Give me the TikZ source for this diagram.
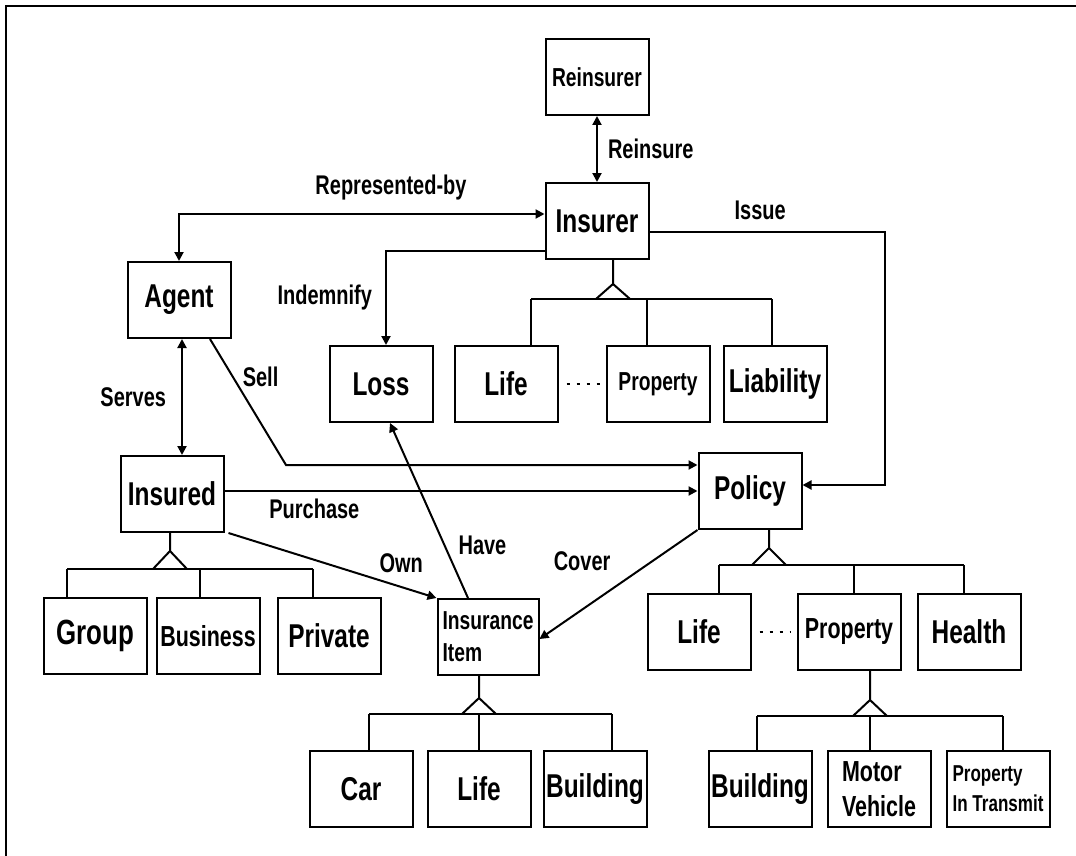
\documentclass[tikz,border=0pt]{standalone}
\usepackage{fontspec}
\newfontfamily\narrowsans[FakeStretch=0.74]{Liberation Sans}
\usetikzlibrary{arrows.meta,positioning}

\begin{document}
\begin{tikzpicture}[x=1pt, y=-1pt,
        ent/.style={draw, line width=2pt, minimum width=103pt,
            minimum height=76pt, inner sep=2pt, align=left,
            font=\narrowsans\bfseries\fontsize{33}{36}\selectfont},
        bigtext/.style={font=\narrowsans\bfseries\fontsize{35}{38}\selectfont},
        midtext/.style={font=\narrowsans\bfseries\fontsize{29}{35}\selectfont},
        smltext/.style={font=\narrowsans\bfseries\fontsize{26}{32}\selectfont},
        tinytext/.style={font=\narrowsans\bfseries\fontsize{23}{30}\selectfont},
        rel/.style={inner sep=1pt, font=\narrowsans\bfseries\fontsize{27}{29}\selectfont},
        plain/.style={line width=2pt},
        link/.style={plain, -{Triangle[length=9pt,width=9pt]}},
        both/.style={plain, {Triangle[length=9pt,width=9pt]}-{Triangle[length=9pt,width=9pt]}}]
\useasboundingbox (0,0) rectangle (1076,856);
\draw[plain] (6,856) -- (6,6) -- (1076,6);

% entities
\node[ent, smltext] (reins) at (597,77) {Reinsurer};
\node[ent] (insurer) at (597,221) {Insurer};
\node[ent] (agent) at (179,300) {Agent};
\node[ent] (loss) at (381,384) {Loss};
\node[ent] (lifeA) at (506,384) {Life};
\node[ent, smltext] (propA) at (658,384) {Property};
\node[ent] (liab) at (775,384) {Liability};
\node[ent] (insured) at (172,494) {Insured};
\node[ent] (policy) at (750,491) {Policy};
\node[ent, bigtext] (group) at (95,636) {Group};
\node[ent, midtext] (business) at (208,636) {Business};
\node[ent] (private) at (329,636) {Private};
\node[ent, smltext, minimum width=101pt] (item) at (488,637) {Insurance\\Item};
\node[ent] (lifeP) at (699,632) {Life};
\node[ent, midtext] (propP) at (849,632) {Property};
\node[ent] (health) at (969,632) {Health};
\node[ent] (car) at (361,789) {Car};
\node[ent] (lifeI) at (479,789) {Life};
\node[ent] (buildI) at (595,789) {Building};
\node[ent] (buildP) at (760,789) {Building};
\node[ent, midtext] (motor) at (879,789) {Motor\\Vehicle};
\node[ent, tinytext] (transit) at (998,789) {Property\\In Transmit};

% relationships
\draw[both] (reins) -- (insurer) node[rel, midway, right=9pt] {Reinsure};
\draw[both] (agent.north) |- ([yshift=7pt]insurer.west)
    node[rel, pos=0.79, above=12pt] {Represented-by};
\draw[link] ([yshift=-30pt]insurer.west) -| ([xshift=5pt]loss.north)
    node[rel, pos=0.75, left=12pt] {Indemnify};
\coordinate (issuebend) at (885,232);
\draw[link] ([yshift=-11pt]insurer.east) -- (issuebend)
    node[rel, pos=0.47, above=10pt] {Issue} |- ([yshift=6pt]policy.east);
\draw[both] ([xshift=3pt]agent.south) -- ([xshift=10pt]insured.north)
    node[rel, midway, left=14pt] {Serves};
\coordinate (sellbend) at (286,465);
\draw[link] ([xshift=31pt]agent.south) -- (sellbend)
    node[rel, pos=0.3, right=8pt] {Sell} -- (sellbend -| policy.west);
\draw[link] ([yshift=3pt]insured.east) -- (policy.west)
    node[rel, pos=0.19, below=6pt] {Purchase};
\draw[link] ([xshift=4pt]insured.south east) -- (item.north west)
    node[rel, pos=0.83, above=12pt] {Own};
\draw[link] ([xshift=-20pt]item.north) -- ([xshift=9pt]loss.south)
    node[rel, pos=0.3, right=12pt] {Have};
\draw[link] (policy.south west) -- ([yshift=-2pt]item.east)
    node[rel, pos=0.45, above left=6pt and 14pt] {Cover};

% dots between kinds
\draw[plain, dash pattern=on 3pt off 7pt] ([xshift=8pt]lifeA.east) -- (propA.west);
\draw[plain, dash pattern=on 3pt off 7pt] ([xshift=8pt]lifeP.east) -- ([xshift=-6pt]propP.west);

% kinds of insurer
\draw[plain] (insurer.south -| 613,0) -- (613,284) -- (596,299) (613,284) -- (630,299);
\draw[plain] (531,299) -- (772,299);
\foreach \x/\n in {531/lifeA, 647/propA, 772/liab}
    \draw[plain] (\x,299) -- (\x,299 |- \n.north);

% kinds of insured
\draw[plain] (insured.south -| 170,0) -- (170,551) -- (153,569) (170,551) -- (187,569);
\draw[plain] (67,569) -- (313,569);
\foreach \x/\n in {67/group, 200/business, 313/private}
    \draw[plain] (\x,569) -- (\x,569 |- \n.north);

% kinds of insurance item
\draw[plain] (item.south -| 479,0) -- (479,698) -- (462,714) (479,698) -- (496,714);
\draw[plain] (369,714) -- (612,714);
\foreach \x/\n in {369/car, 479/lifeI, 612/buildI}
    \draw[plain] (\x,714) -- (\x,714 |- \n.north);

% kinds of policy
\draw[plain] (policy.south -| 769,0) -- (769,548) -- (752,565) (769,548) -- (786,565);
\draw[plain] (719,565) -- (964,565);
\foreach \x/\n in {719/lifeP, 854/propP, 964/health}
    \draw[plain] (\x,565) -- (\x,565 |- \n.north);

% kinds of property
\draw[plain] (propP.south -| 870,0) -- (870,700) -- (853,716) (870,700) -- (887,716);
\draw[plain] (757,716) -- (1003,716);
\foreach \x/\n in {757/buildP, 870/motor, 1003/transit}
    \draw[plain] (\x,716) -- (\x,716 |- \n.north);

\end{tikzpicture}
\end{document}
